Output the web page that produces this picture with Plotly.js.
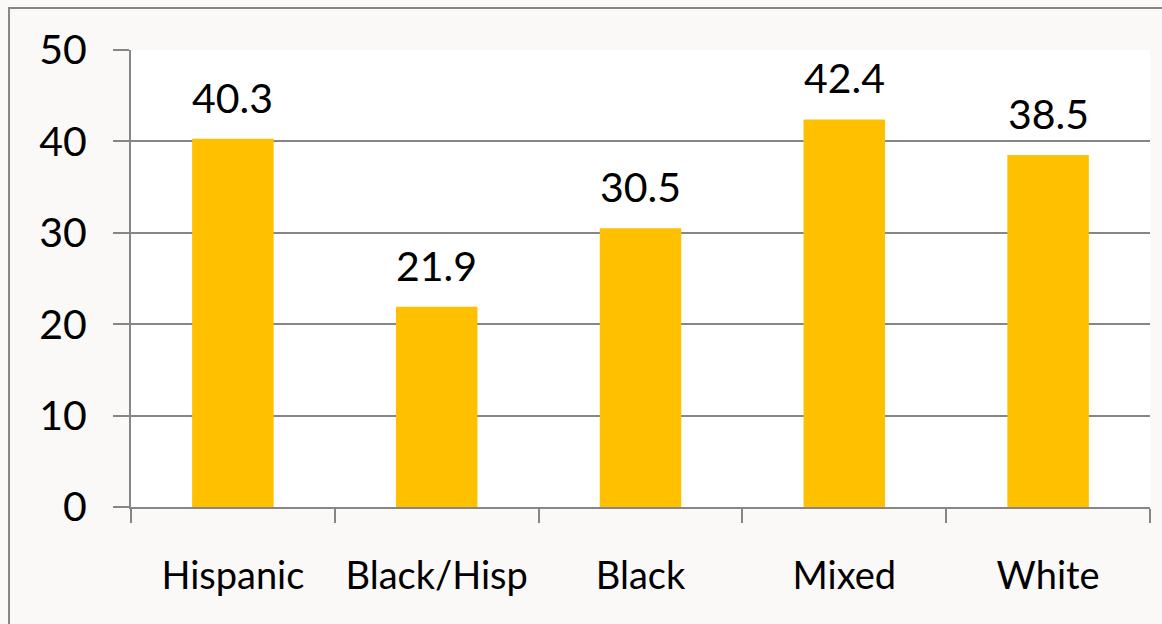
<!DOCTYPE html>
<html>
<head>
<meta charset="utf-8">
<script src="https://cdn.plot.ly/plotly-3.0.1.min.js"></script>
<style>
html,body{margin:0;padding:0;background:#FAF9F8;}
#chart{width:1162px;height:624px;}
</style>
</head>
<body>
<div id="chart"></div>
<script>
const categories = ["Hispanic", "Black/Hisp", "Black", "Mixed", "White"];
const values = [40.3, 21.9, 30.5, 42.4, 38.5];
const yTicks = [0, 10, 20, 30, 40, 50];

const gray = "#868686";
const trace = {
  type: "bar",
  x: categories,
  y: values,
  marker: {color: "#FFC000"},
  hoverinfo: "x+y"
};

const annotations = categories.map((c, i) => ({
  x: c, y: values[i], xref: "x", yref: "y",
  text: values[i].toFixed(1),
  showarrow: false, yanchor: "bottom", yshift: 15,
  font: {family: "Lato, 'Open Sans', sans-serif", size: 41, color: "#000"}
}));

const layout = {
  width: 1162, height: 624,
  margin: {l: 131, r: 12, t: 50, b: 117, pad: 0},
  paper_bgcolor: "#FAF9F8",
  plot_bgcolor: "#FFFFFF",
  bargap: 0.6,
  showlegend: false,
  font: {family: "Lato, 'Open Sans', sans-serif", color: "#000"},
  xaxis: {
    type: "category",
    showline: true, linecolor: gray, linewidth: 2,
    ticks: "outside", tickson: "boundaries", ticklen: 14, tickwidth: 2, tickcolor: gray,
    tickfont: {size: 38, color: "#000"},
    ticklabelstandoff: 34,
    showgrid: false, zeroline: false
  },
  yaxis: {
    range: [0, 50],
    tickvals: yTicks,
    ticktext: yTicks.map(String),
    showline: true, linecolor: gray, linewidth: 2,
    ticks: "outside", ticklen: 16, tickwidth: 2, tickcolor: gray,
    tickfont: {size: 41, color: "#000"},
    ticklabelstandoff: 18,
    showgrid: true, gridcolor: gray, gridwidth: 2,
    zeroline: false
  },
  annotations: annotations,
  shapes: [{
    type: "rect", xref: "paper", yref: "paper",
    x0: -0.1197, x1: 1.2, y0: -0.5, y1: 1.0919,
    line: {color: gray, width: 2}, fillcolor: "rgba(0,0,0,0)", layer: "above"
  }]
};

Plotly.newPlot("chart", [trace], layout, {displayModeBar: false, staticPlot: true});
</script>
</body>
</html>
